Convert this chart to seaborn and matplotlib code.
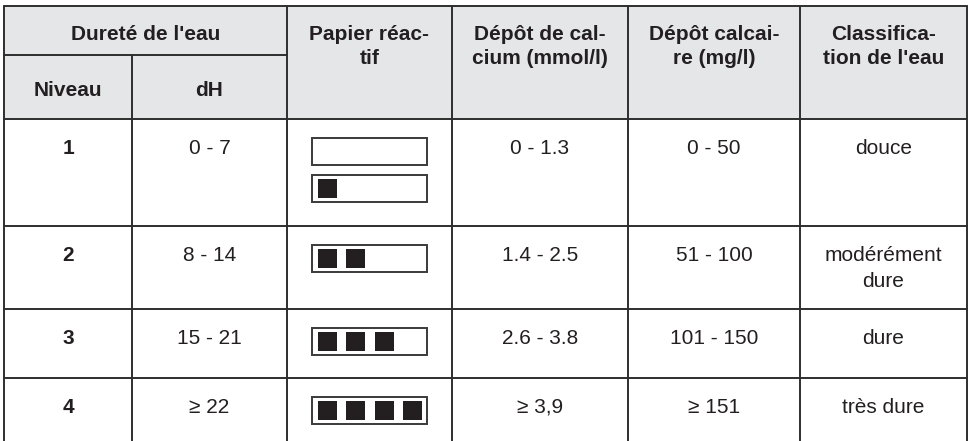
import numpy as np
import pandas as pd
import matplotlib.pyplot as plt
import seaborn as sns
from matplotlib.patches import Rectangle


# Table content
group_header = "Dureté de l'eau"
sub_headers = ['Niveau', 'dH']
col_headers = ["Papier réac-\ntif",
               "Dépôt de cal-\ncium (mmol/l)",
               "Dépôt calcai-\nre (mg/l)",
               "Classifica-\ntion de l'eau"]

levels = ['1', '2', '3', '4']
dh = ['0 - 7', '8 - 14', '15 - 21', '≥ 22']
strips = [[0, 1], [2], [3], [4]]          # filled squares on each test strip
calcium = ['0 - 1.3', '1.4 - 2.5', '2.6 - 3.8', '≥ 3,9']
calcaire = ['0 - 50', '51 - 100', '101 - 150', '≥ 151']
classif = ['douce', 'modérément\ndure', 'dure', 'très dure']

# Layout (pixels)
col_edges = [4.5, 132, 287, 452, 628, 800, 967]
row_edges = [5.5, 55, 119, 226, 309, 378, 441]

line_col = '#2e2e2e'
head_bg = '#e5e6e8'
text_col = '#231f20'
fs = 15


def main():

	sns.set_theme(style='white')
	plt.rcParams['font.family'] = ['Liberation Sans', 'DejaVu Sans']

	fig = plt.figure(figsize=(9.7, 4.41), dpi=100)
	ax = fig.add_axes([0, 0, 1, 1])
	ax.set_xlim(0, 970)
	ax.set_ylim(441, 0)
	ax.axis('off')

	x0, x1 = col_edges[0], col_edges[-1]
	centers = [(a + b) / 2 for a, b in zip(col_edges[:-1], col_edges[1:])]

	# header background
	ax.add_patch(Rectangle((x0, row_edges[0]), x1 - x0, row_edges[2] - row_edges[0],
	                       facecolor=head_bg, edgecolor='none', zorder=0))

	# grid lines
	lw = 1.4
	ax.plot([x0, x1], [row_edges[0]] * 2, color=line_col, lw=lw)
	ax.plot([x0, col_edges[2]], [row_edges[1]] * 2, color=line_col, lw=lw)
	for y in row_edges[2:-1]:
		ax.plot([x0, x1], [y, y], color=line_col, lw=lw)
	for i, x in enumerate(col_edges):
		top = row_edges[1] if i == 1 else row_edges[0]
		ax.plot([x, x], [top, row_edges[-1]], color=line_col, lw=lw)

	# header text
	ax.text((col_edges[0] + col_edges[2]) / 2, 40, group_header, ha='center',
	        va='baseline', fontsize=fs, fontweight='bold', color=text_col)
	for c, t in zip(centers[:2], sub_headers):
		ax.text(c, 96, t, ha='center', va='baseline', fontsize=fs,
		        fontweight='bold', color=text_col)
	for c, t in zip(centers[2:], col_headers):
		for k, line in enumerate(t.split('\n')):
			ax.text(c, 40 + k * 24.5, line, ha='center', va='baseline',
			        fontsize=fs, fontweight='bold', color=text_col)

	# body
	sq, pitch, sw, sh = 19, 28.3, 115, 27
	for r in range(len(levels)):
		top = row_edges[r + 2]
		base = top + 34.8
		ax.text(centers[0], base, levels[r], ha='center', va='baseline',
		        fontsize=fs, fontweight='bold', color=text_col)
		for c, vals in zip([1, 3, 4, 5], [dh, calcium, calcaire, classif]):
			for k, line in enumerate(vals[r].split('\n')):
				ax.text(centers[c], base + k * 26, line, ha='center',
				        va='baseline', fontsize=fs, color=text_col)
		# test strips
		for s, n in enumerate(strips[r]):
			cy = top + 32 + s * 37
			sx = centers[2] - sw / 2
			ax.add_patch(Rectangle((sx, cy - sh / 2), sw, sh, facecolor='white',
			                       edgecolor='#3a3a3a', lw=1.4, zorder=2))
			for j in range(n):
				ax.add_patch(Rectangle((sx + 6 + j * pitch, cy - sq / 2), sq, sq,
				                       facecolor=text_col, edgecolor='none', zorder=3))

	fig.savefig('out.png', dpi=100)


if __name__ == "__main__":
	main()
